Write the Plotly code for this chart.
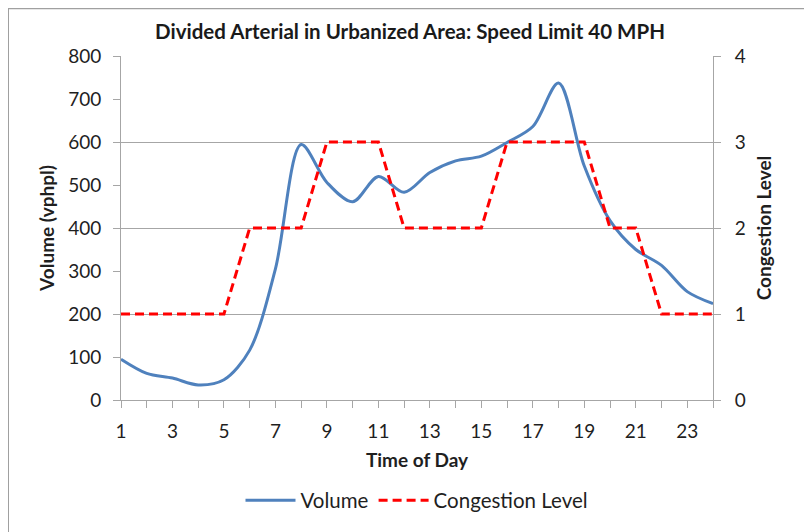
import plotly.graph_objects as go

hours = list(range(1, 25))
volume = [95, 62, 51, 35, 47, 116, 305, 594, 506, 461, 520, 483,
          529, 556, 567, 599, 636, 737, 544, 417, 350, 313, 252, 224]
congestion = [1, 1, 1, 1, 1, 2, 2, 2, 3, 3, 3, 2,
              2, 2, 2, 3, 3, 3, 3, 2, 2, 1, 1, 1]
x_tick_vals = list(range(1, 25, 2))
title_text = "Divided Arterial in Urbanized Area: Speed Limit 40 MPH"

FONT = "Lato"
AXIS_GRAY = "#a6a6a6"
W, H = 804, 524

fig = go.Figure()
fig.add_trace(go.Scatter(
    x=hours, y=volume, name="Volume", mode="lines",
    line=dict(color="#4F81BD", width=3, shape="spline", smoothing=0.9),
    yaxis="y"))
fig.add_trace(go.Scatter(
    x=hours, y=congestion, name="Congestion Level", mode="lines",
    line=dict(color="#FF0000", width=3, dash="9px,5px"),
    yaxis="y2"))

fig.update_layout(
    width=W, height=H,
    margin=dict(l=113, r=99, t=48, b=130),
    paper_bgcolor="white", plot_bgcolor="white",
    font=dict(family=FONT, size=19, color="#1f1f1f"),
    title=dict(text="<b>" + title_text + "</b>", x=0.5, xanchor="center",
               y=1 - 24 / H, yanchor="middle",
               font=dict(size=20.5, family=FONT, color="#1a1a1a")),
    xaxis=dict(range=[1, 24], tickvals=hours,
               ticktext=[str(h) if h in x_tick_vals else "" for h in hours],
               ticks="outside", ticklen=7, tickcolor=AXIS_GRAY,
               showline=True, linecolor=AXIS_GRAY, linewidth=1,
               showgrid=False, zeroline=False, ticklabelstandoff=7,
               title=dict(text="<b>Time of Day</b>", font=dict(size=19), standoff=12)),
    yaxis=dict(range=[0, 800], dtick=100, ticks="outside", ticklen=7,
               tickcolor=AXIS_GRAY, showline=True, linecolor=AXIS_GRAY,
               showgrid=False, zeroline=False, ticklabelstandoff=8,
               title=dict(text="<b>Volume (vphpl)</b>", font=dict(size=19), standoff=8)),
    yaxis2=dict(range=[0, 4], dtick=1, overlaying="y", side="right",
                ticks="outside", ticklen=7, tickcolor=AXIS_GRAY,
                showline=True, linecolor=AXIS_GRAY, ticklabelstandoff=10,
                showgrid=True, gridcolor=AXIS_GRAY, gridwidth=1, zeroline=False,
                title=dict(text="<b>Congestion Level</b>", font=dict(size=19), standoff=12)),
    legend=dict(orientation="h", x=0.5, xanchor="center", y=(402 - 503) / 346,
                yanchor="middle", font=dict(size=20.5), itemwidth=50),
    showlegend=True,
)

fig.add_shape(type="rect", xref="paper", yref="paper",
              x0=(8 - 121) / 592, x1=(840 - 121) / 592,
              y0=(402 - 560) / 346, y1=(402 - 8) / 346,
              line=dict(color="#a0a0a0", width=2), layer="below")

fig.write_html("out.html")
